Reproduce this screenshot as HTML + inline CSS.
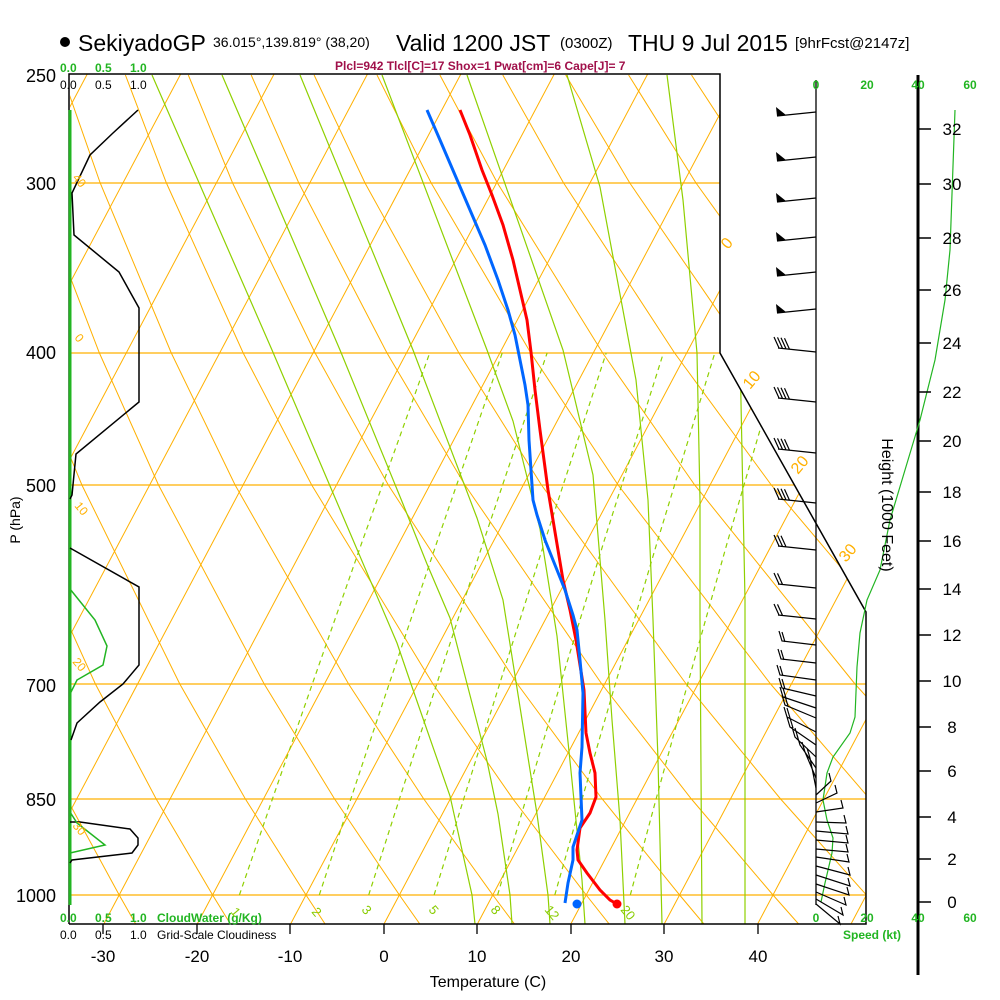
<!DOCTYPE html>
<html><head><meta charset="utf-8"><style>
html,body{margin:0;padding:0;background:#fff;}
svg{display:block;font-family:"Liberation Sans",Arial,sans-serif;}
</style></head><body>
<svg width="1000" height="1000" viewBox="0 0 1000 1000" xmlns="http://www.w3.org/2000/svg">
<defs><clipPath id="cp"><polygon points="70,74 720,74 720,353 866,612 866,924 70,924"/></clipPath></defs>
<g clip-path="url(#cp)" fill="none">
<g stroke="#ffb000" stroke-width="1.2">
<line x1="70" y1="183" x2="720" y2="183"/><line x1="70" y1="353" x2="720" y2="353"/><line x1="70" y1="485" x2="866" y2="485"/><line x1="70" y1="684" x2="866" y2="684"/><line x1="70" y1="799" x2="866" y2="799"/><line x1="70" y1="895" x2="866" y2="895"/>
</g>
<g stroke="#ffb000" stroke-width="1">
<line x1="-363.2" y1="924" x2="87.3" y2="74"/><line x1="-269.8" y1="924" x2="180.7" y2="74"/><line x1="-176.4" y1="924" x2="274.1" y2="74"/><line x1="-83" y1="924" x2="367.5" y2="74"/><line x1="10.4" y1="924" x2="460.9" y2="74"/><line x1="103.8" y1="924" x2="554.3" y2="74"/><line x1="197.2" y1="924" x2="647.7" y2="74"/><line x1="290.6" y1="924" x2="741.1" y2="74"/><line x1="384" y1="924" x2="834.5" y2="74"/><line x1="477.4" y1="924" x2="927.9" y2="74"/><line x1="570.8" y1="924" x2="1021.3" y2="74"/><line x1="664.2" y1="924" x2="1114.7" y2="74"/><line x1="757.6" y1="924" x2="1208.1" y2="74"/><line x1="851" y1="924" x2="1301.5" y2="74"/>
</g>
<g stroke="#ffb000" stroke-width="1">
<polyline points="135.7,924 119.2,895 67,799 11,684 -71.3,485 -116.3,353 -164.6,183 -189.1,75"/>
<polyline points="230.4,924 212.6,895 156.2,799 95.4,684 5.3,485 -44.4,353 -98.4,183 -126.2,75"/>
<polyline points="325.1,924 306,895 245.4,799 179.8,684 81.9,485 27.5,353 -32.2,183 -63.3,75"/>
<polyline points="419.8,924 399.4,895 334.6,799 264.2,684 158.5,485 99.4,353 34,183 -0.4,75"/>
<polyline points="514.5,924 492.8,895 423.8,799 348.6,684 235.1,485 171.3,353 100.2,183 62.5,75"/>
<polyline points="609.2,924 586.2,895 513,799 433,684 311.7,485 243.2,353 166.4,183 125.4,75"/>
<polyline points="703.9,924 679.6,895 602.2,799 517.4,684 388.3,485 315.1,353 232.6,183 188.3,75"/>
<polyline points="798.6,924 773,895 691.4,799 601.8,684 464.9,485 387,353 298.8,183 251.2,75"/>
<polyline points="893.3,924 866.4,895 780.6,799 686.2,684 541.5,485 458.9,353 365,183 314.1,75"/>
<polyline points="988,924 959.8,895 869.8,799 770.6,684 618.1,485 530.8,353 431.2,183 377,75"/>
<polyline points="1053.2,895 959,799 855,684 694.7,485 602.7,353 497.4,183 439.9,75"/>
<polyline points="1048.2,799 939.4,684 771.3,485 674.6,353 563.6,183 502.8,75"/>
<polyline points="1137.4,799 1023.8,684 847.9,485 746.5,353 629.8,183 565.7,75"/>
<polyline points="1108.2,684 924.5,485 818.4,353 696,183 628.6,75"/>
<polyline points="1192.6,684 1001.1,485 890.3,353 762.2,183 691.5,75"/>
<polyline points="1077.7,485 962.2,353 828.4,183 754.4,75"/>
<polyline points="1154.3,485 1034.1,353 894.6,183 817.3,75"/>
</g>
<g stroke="#8fd000" stroke-width="1.2" stroke-dasharray="5,4">
<polyline points="239.4,895 272.4,799 312.3,684 362.4,541 429.7,353"/>
<polyline points="319.3,895 350.8,799 389.1,684 437.3,541 502.2,353"/>
<polyline points="368.7,895 399.4,799 436.7,684 483.7,541 547.1,353"/>
<polyline points="434.1,895 463.7,799 499.6,684 544.9,541 606.2,353"/>
<polyline points="497.6,895 526,799 560.4,684 604.1,541 663.4,353"/>
<polyline points="554.8,895 582.1,799 615.3,684 657.5,541 714.8,353"/>
<polyline points="630.3,895 656.1,799 687.6,684 727.7,541 782.4,353"/>
</g>
<g stroke="#8fd000" stroke-width="1.2">
<polyline points="152,75 272,350 330,486 397,643 411,684 450,796 472,895 475,924"/>
<polyline points="222,75 340,350 403,504 427,564 450,618 487,761 498,814 510,895 512,924"/>
<polyline points="300,75 413,350 477,518 503,600 520,707 537,814 548,895 550,924"/>
<polyline points="382,75 487,350 513,421 540,529 557,636 570,761 582,880 585,924"/>
<polyline points="467,75 563,350 593,475 605,620 612,720 620,820 625,924"/>
<polyline points="567,75 600,187 636,380 648,500 653,620 658,760 662,924"/>
<polyline points="667,75 683,200 697,353 700,500 700,620 702,924"/>
<polyline points="720,140 740,353 745,600 745,924"/>
</g>
</g>
<polyline points="69,924 69,74 720,74 720,353 866,612 866,924 69,924" fill="none" stroke="#000" stroke-width="1.5"/>
<line x1="816" y1="80" x2="816" y2="905" stroke="#000" stroke-width="1.3"/>
<line x1="70" y1="110" x2="70" y2="905" stroke="#22b522" stroke-width="3"/>
<line x1="918" y1="75" x2="918" y2="975" stroke="#000" stroke-width="3"/>
<g fill="none" stroke-width="1.5">
<polyline stroke="#000" points="138,110 113,133 90,155 72,193 74,235 119,272 139,308 139,402 76,454 72,495 70,499"/>
<polyline stroke="#000" points="70,548 139,587 139,665 123,684 100,702 77,723 71,740"/>
<polyline stroke="#22b522" points="70,589 95,620 107,646 103,665 77,680 70,694"/>
<polyline stroke="#000" points="70,822 80,822 130,829 138,838 138,845 132,853 72,860 70,863"/>
<polyline stroke="#22b522" points="70,812 77,823 105,845 70,853"/>
</g>
<polyline fill="none" stroke="#ff0000" stroke-width="3" points="460,110 470,135 482,170 492,195 503,225 513,260 520,290 527,320 531,352 535,390 540,430 544,460 548,490 553,520 558,550 563,580 570,610 576,640 580,665 584,690 586,733 590,753 595,773 596,797 590,813 580,828 577,850 578,860 587,873 600,890 610,900 617,904"/>
<circle cx="617" cy="904" r="4.5" fill="#ff0000"/>
<polyline fill="none" stroke="#0066ff" stroke-width="3" points="427,110 440,140 455,175 470,210 485,245 498,280 508,310 515,335 520,360 525,385 528,405 529,440 531,470 533,500 537,515 545,540 555,565 565,590 573,615 577,630 580,660 583,693 582,747 580,773 582,820 573,847 573,860 568,883 565,903"/>
<circle cx="577" cy="904" r="4.5" fill="#0066ff"/>
<polyline fill="none" stroke="#22b522" stroke-width="1.2" points="821,902 825,883 832,853 833,838 827,820 823,800 827,773 833,757 850,733 855,717 857,667 860,633 867,600 880,570 890,520 905,470 920,420 935,360 945,300 950,250 955,110"/>
<path stroke="#000" stroke-width="1.5" d="M918 902h13M918 859h13M918 817h13M918 771h13M918 727h13M918 681h13M918 635h13M918 589h13M918 541h13M918 492h13M918 441h13M918 392h13M918 343h13M918 290h13M918 238h13M918 184h13M918 129h13"/>
<g fill="none" stroke="#000" stroke-width="1.2">
<path d="M816 112L777 116M816 157L777 161M816 198L777 202M816 237L777 241M816 272L777 276M816 309L777 313"/>
<path d="M816 352L778 348M779 348l-5 -11M782.5 348.4l-5 -11M786 348.8l-5 -11M789.5 349.2l-5 -11"/>
<path d="M816 402L778 398M779 398l-5 -11M782.5 398.4l-5 -11M786 398.8l-5 -11M789.5 399.2l-5 -11"/>
<path d="M816 453L778 449M779 449l-5 -11M782.5 449.4l-5 -11M786 449.8l-5 -11M789.5 450.2l-5 -11"/>
<path d="M816 503L778 499M779 499l-5 -11M782.5 499.4l-5 -11M786 499.8l-5 -11M789.5 500.2l-5 -11"/>
<path d="M816 550L778 546M779 546l-5 -11M782.5 546.4l-5 -11M786 546.8l-5 -11"/>
<path d="M816 588L778 584M779 584l-5 -11M782.5 584.4l-5 -11"/>
<path d="M816 619L778 615M779 615l-5 -11M782.5 615.4l-5 -11"/>
<path d="M816 645L782 641l-3 -10M785 642l-3 -10M816 663L781 659l-3 -10M784 660l-3 -10M816 680L780 675l-3 -10M783 676l-3 -10M816 696L782 688l-3 -10M785 689l-3 -10M816 708L783 697l-3 -10M786 698l-3 -10M816 718L785 705l-3 -10M788 706l-3 -10M816 732L787 717l-3 -10M790 718l-3 -10M816 745L790 727l-3 -10M793 728l-3 -10M816 757L795 737l-3 -10M798 738l-3 -10M816 768L800 745l-3 -10M816 778L805 752l-3 -10M816 788L810 758l-3 -10"/>
<path d="M816 795L831 781l-2 -8M816 803L837 793l-2 -8M816 812L843 808l-2 -8M816 822L846 823l-2 -8M816 831L848 834l-2 -8M816 840L848 843l-2 -8M816 849L848 852l-2 -8M816 857L849 862l-2 -8M816 866L850 875l-2 -8M816 875L850 886l-2 -8M816 884L849 895l-2 -8M816 892L846 905l-2 -8M816 899L843 915l-2 -8M816 904L840 924l-2 -8"/>
</g>
<g fill="#000"><polygon points="777,116 776,107 786,115"/><polygon points="777,161 776,152 786,160"/><polygon points="777,202 776,193 786,201"/><polygon points="777,241 776,232 786,240"/><polygon points="777,276 776,267 786,275"/><polygon points="777,313 776,304 786,312"/></g>
<circle cx="65" cy="42" r="5" fill="#000"/>
<text x="78" y="51" font-size="23">SekiyadoGP</text>
<text x="213" y="47" font-size="14">36.015°,139.819° (38,20)</text>
<text x="396" y="51" font-size="23">Valid 1200 JST</text>
<text x="560" y="48" font-size="15">(0300Z)</text>
<text x="628" y="51" font-size="23">THU 9 Jul 2015</text>
<text x="795" y="48" font-size="15">[9hrFcst@2147z]</text>
<text x="335" y="70" font-size="12" font-weight="bold" fill="#a0104a">Plcl=942 Tlcl[C]=17 Shox=1 Pwat[cm]=6 Cape[J]= 7</text>
<g font-size="12" font-weight="bold" fill="#22b522"><text x="60" y="72">0.0</text><text x="95" y="72">0.5</text><text x="130" y="72">1.0</text></g>
<g font-size="12" fill="#000"><text x="60" y="89">0.0</text><text x="95" y="89">0.5</text><text x="130" y="89">1.0</text></g>
<g font-size="12" font-weight="bold" fill="#22b522"><text x="60" y="922">0.0</text><text x="95" y="922">0.5</text><text x="130" y="922">1.0</text><text x="157" y="922">CloudWater (g/Kg)</text></g>
<g font-size="12" fill="#000"><text x="60" y="939">0.0</text><text x="95" y="939">0.5</text><text x="130" y="939">1.0</text><text x="157" y="939">Grid-Scale Cloudiness</text></g>
<g font-size="18" text-anchor="end" fill="#000">
<text x="56" y="82">250</text><text x="56" y="190">300</text><text x="56" y="359">400</text><text x="56" y="492">500</text><text x="56" y="692">700</text><text x="56" y="806">850</text><text x="56" y="902">1000</text></g>
<text transform="translate(20,520) rotate(-90)" font-size="14" text-anchor="middle">P (hPa)</text>
<g font-size="17" text-anchor="middle">
<text x="103" y="962">-30</text><text x="197" y="962">-20</text><text x="290" y="962">-10</text><text x="384" y="962">0</text><text x="477" y="962">10</text><text x="571" y="962">20</text><text x="664" y="962">30</text><text x="758" y="962">40</text></g>
<text x="488" y="987" font-size="16" text-anchor="middle">Temperature (C)</text>
<path stroke="#000" stroke-width="1.3" d="M103 924v10M197 924v10M290 924v10M384 924v10M477 924v10M571 924v10M664 924v10M758 924v10"/>
<g font-size="12" font-weight="bold" fill="#22b522" text-anchor="middle">
<text x="816" y="89">0</text><text x="867" y="89">20</text><text x="918" y="89">40</text><text x="970" y="89">60</text>
<text x="816" y="922">0</text><text x="867" y="922">20</text><text x="918" y="922">40</text><text x="970" y="922">60</text>
<text x="872" y="939">Speed (kt)</text></g>
<g font-size="17" text-anchor="middle">
<text x="952" y="908">0</text><text x="952" y="865">2</text><text x="952" y="823">4</text><text x="952" y="777">6</text><text x="952" y="733">8</text><text x="952" y="687">10</text><text x="952" y="641">12</text><text x="952" y="595">14</text><text x="952" y="547">16</text><text x="952" y="498">18</text><text x="952" y="447">20</text><text x="952" y="398">22</text><text x="952" y="349">24</text><text x="952" y="296">26</text><text x="952" y="244">28</text><text x="952" y="190">30</text><text x="952" y="135">32</text></g>
<text transform="translate(882,505) rotate(90)" font-size="16" text-anchor="middle">Height (1000 Feet)</text>
<g fill="#ffb000" font-size="16">
<text transform="translate(728,250) rotate(-50)">0</text>
<text transform="translate(750,390) rotate(-50)">10</text>
<text transform="translate(798,475) rotate(-50)">20</text>
<text transform="translate(846,563) rotate(-50)">30</text>
</g>
<g fill="#ffb000" font-size="12">
<text transform="translate(72,178) rotate(50)">40</text>
<text transform="translate(74,338) rotate(50)">0</text>
<text transform="translate(74,506) rotate(50)">10</text>
<text transform="translate(72,662) rotate(50)">20</text>
<text transform="translate(72,826) rotate(50)">30</text>
</g>
<g fill="#88cc00" font-size="13">
<text transform="translate(230,912) rotate(50)">1</text>
<text transform="translate(311,912) rotate(50)">2</text>
<text transform="translate(361,910) rotate(50)">3</text>
<text transform="translate(428,910) rotate(50)">5</text>
<text transform="translate(490,910) rotate(50)">8</text>
<text transform="translate(544,910) rotate(50)">12</text>
<text transform="translate(620,910) rotate(50)">20</text>
</g>
</svg>
</body></html>
